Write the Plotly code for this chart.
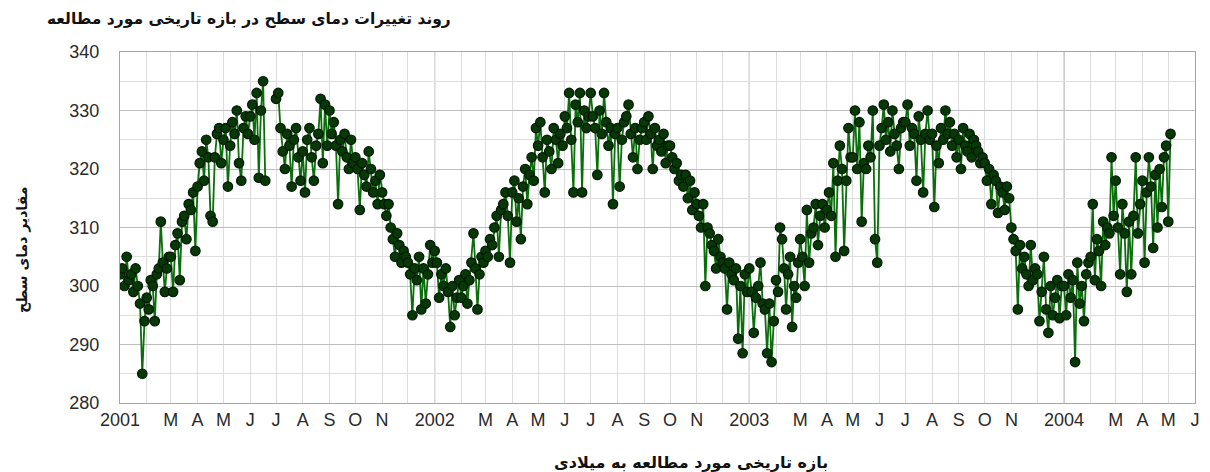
import datetime as dt
import calendar
import plotly.graph_objects as go

years = [2001, 2002, 2003, 2004]
month_letters = ["", "", "M", "A", "M", "J", "J", "A", "S", "O", "N", ""]

vals_2001 = [
    [302, 303, 300, 305, 301, 302, 299, 303, 300, 297, 285, 294],
    [298, 296, 301, 300, 294, 302, 303, 311, 304, 299, 303, 305],
    [305, 299, 307, 309, 301, 311, 312, 308, 314, 313, 316, 306],
    [317, 321, 323, 318, 325, 322, 312, 311, 322, 326, 327, 321],
    [325, 327, 317, 324, 328, 326, 330, 321, 318, 327, 329, 326],
    [329, 331, 325, 333, 318.5, 330, 335, 318, None, None, None, None],
    [332, 333, 327, 323, 320, 326, 324, 317, 325, 327, 322, 318],
    [323, 316, 325, 327, 322, 318, 324, 326, 332, 321, 331, 324],
    [330, 326, 328, 324, 314, 325, 323, 326, 322, 320, 325, 321],
    [322, 320, 313, 321, 319, 317, 323, 320, 316, 318, 314, 319],
    [316, 314, 312, 314, 310, 308, 305, 309, 307, 304, 306, 305],
    [304, 302, 295, 303, 301, 305, 296, 303, 297, 302, 307, 304],
]
vals_2002 = [
    [306, 304, 298, 302, 300, 303, 299, 293, 300, 295, 298, 301],
    [298, 300, 302, 297, 301, 304, 309, 303, 296, 302, 305, 304],
    [306, 305, 308, 307, 310, 312, 305, 313, 314, 316, 312, 304],
    [316, 318, 311, 315, 308, 317, 320, 314, 319, 322, 318, 327],
    [324, 328, 322, 316, 325, 323, 320, 327, 325, 321, 326, 324],
    [329, 327, 333, 325, 316, 331, 328, 333, 316, 330, 327, 329],
    [333, 329, 327, 319, 330, 326, 333, 328, 324, 327, 314, 326],
    [327, 317, 325, 328, 329, 331, 326, 322, 327, 320, 325, 327],
    [328, 325, 329, 326, 320, 327, 324, 325, 323, 326, 321, 324],
    [324, 322, 320, 321, 318, 319, 317, 319, 315, 318, 313, 316],
    [314, 312, 310, 314, 300, 310, 309, 307, 306, 303, 308, 305],
    [304, 303, 296, 304, 302, 301, 303, 291, 300, 288.5, 302, 299],
]
vals_2003 = [
    [303, 299, 292, 298, 300, 304, 297, 296, 288.5, 297, 287, 294],
    [301, 299, 310, 308, 303, 296, 302, 305, 293, 300, 298, 304],
    [308, 305, 300, 313, 304, 309, 310, 314, 307, 312, 314, 310],
    [313, 316, 312, 321, 305, 318, 324, 320, 306, 318, 327, 322],
    [322, 330, 320, 328, 311, 321, 320, 324, 322, 330, 308, 304],
    [324, 327, 331, 325, 328, 323, 330, 326, 324, 320, 327, 328],
    [328, 331, 324, 327, 326, 318, 329, 325, 316, 326, 330, 325],
    [326, 313.5, 324, 321, 327, 325, 330, 326, 328, 324, 326, 322],
    [325, 320, 327, 324, 323, 326, 322, 325, 324, 323, 321, 322],
    [321, 318, 320, 314, 319, 318, 312.5, 317, 316, 313, 317, 315],
    [310, 308, 306, 296, 307, 303, 305, 302, 300, 307, 301, 303],
    [302, 294, 299, 305, 296, 292, 300, 295, 298, 301, 294.5, 300],
]
vals_2004 = [
    [300, 295, 302, 298, 301, 287, 304, 297, 300, 294, 302, 304],
    [305, 314, 301, 308, 306, 300, 311, 307, 310, 309, 322, 312],
    [318, 310, 302, 314, 309, 299, 311, 302, 312, 322, 309, 314],
    [318, 304, 316, 322, 317, 306.5, 319, 310, 320, 313.5, 322, 324],
    [311, 326],
]

title_text = "روند تغییرات دمای سطح در بازه تاریخی مورد مطالعه"
y_title = "مقادیر دمای سطح"
x_title = "بازه تاریخی مورد مطالعه به میلادی"

x_dates, y_vals = [], []
for year, months in zip(years, [vals_2001, vals_2002, vals_2003, vals_2004]):
    for m, vals in enumerate(months, start=1):
        start = dt.datetime(year, m, 1)
        step = calendar.monthrange(year, m)[1] / 12
        for k, v in enumerate(vals):
            x_dates.append(start + dt.timedelta(days=k * step))
            y_vals.append(v)

tickvals, ticktext = [], []
for year in years:
    for m in range(1, 13):
        d = dt.datetime(year, m, 1)
        if d > dt.datetime(2004, 6, 1):
            break
        tickvals.append(d)
        if m == 1:
            ticktext.append(str(year))
        elif year == 2004 and m == 6:
            ticktext.append("J")
        else:
            ticktext.append(month_letters[m - 1])

fig = go.Figure()
fig.add_trace(go.Scatter(
    x=x_dates, y=y_vals, mode="lines+markers",
    line=dict(color="#0a6e0a", width=1.8),
    marker=dict(size=9.5, color="#083808", line=dict(color="#021a02", width=1.2)),
    connectgaps=False, showlegend=False,
))

for year in years[1:]:
    fig.add_shape(type="line", xref="x", yref="paper",
                  x0=dt.datetime(year, 1, 1), x1=dt.datetime(year, 1, 1), y0=0, y1=1,
                  line=dict(color="#a6a6a6", width=1.2), layer="below")

axis_font = dict(family="Liberation Sans, Arial", size=18, color="#2a2a2a")
fig.update_xaxes(
    range=[dt.datetime(2001, 1, 1), dt.datetime(2004, 6, 1)],
    tickmode="array", tickvals=tickvals, ticktext=ticktext,
    showgrid=True, gridcolor="#dcdcdc", gridwidth=1,
    showline=True, linecolor="#a6a6a6", linewidth=1.2, mirror=True,
    ticks="", tickfont=axis_font, zeroline=False,
)
fig.update_yaxes(
    range=[280, 340], tickvals=[280, 290, 300, 310, 320, 330, 340],
    showgrid=True, gridcolor="#bdbdbd", gridwidth=1.2,
    minor=dict(dtick=5, showgrid=True, gridcolor="#dedede", gridwidth=1),
    showline=True, linecolor="#a6a6a6", linewidth=1.2, mirror=True,
    ticks="", tickfont=axis_font, zeroline=False, ticklabelstandoff=16,
)

fig.update_layout(
    width=1202, height=464,
    margin=dict(l=112, r=10, t=44, b=69),
    paper_bgcolor="white", plot_bgcolor="white",
    title=dict(text="<b>" + title_text + "</b>", x=0.0324, xanchor="left",
               y=0.978, yanchor="middle",
               font=dict(family="DejaVu Sans", size=15.5, color="#111111")),
    annotations=[
        dict(text="<b>" + y_title + "</b>", xref="paper", yref="paper",
             x=-0.100, y=0.436, textangle=-90, showarrow=False,
             font=dict(family="DejaVu Sans", size=14, color="#111111")),
        dict(text="<b>" + x_title + "</b>", xref="paper", yref="paper",
             x=0.531, y=-0.201, showarrow=False,
             font=dict(family="DejaVu Sans", size=16, color="#111111")),
    ],
)

fig.write_html("out.html")
